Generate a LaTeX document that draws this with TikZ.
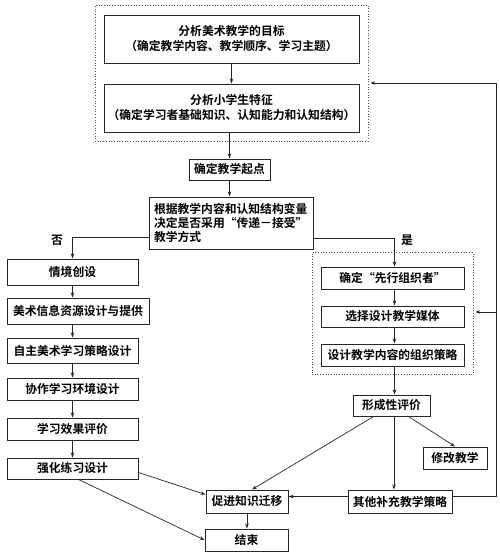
\documentclass[tikz,border=0pt]{standalone}
\usepackage{fontspec}
\newfontfamily\cjk{Noto Sans CJK SC}[BoldFont={Noto Sans CJK SC Bold}]
\usetikzlibrary{arrows.meta}
\begin{document}
\begin{tikzpicture}[x=1pt,y=-1pt,
  box/.style={draw=black!85,line width=1pt,inner sep=0pt,align=center,
    font=\cjk\bfseries\fontsize{11.8}{15}\selectfont},
  dotbox/.style={draw=black!70,line width=0.7pt,dotted,inner sep=0pt},
  lbl/.style={font=\cjk\bfseries\fontsize{11.8}{14}\selectfont,inner sep=0pt},
  arr/.style={line width=0.7pt,draw=black!85,-{Stealth[length=5pt,width=3.5pt]}},
  ln/.style={line width=0.7pt,draw=black!85}]
\useasboundingbox (0,0) rectangle (500,557);
% dotted groups
\node[dotbox,minimum width=273pt,minimum height=136pt] (P1) at (231.5,73) {};
\node[dotbox,minimum width=161pt,minimum height=122pt] (P2) at (392.5,313) {};
% top
\node[box,minimum width=255pt,minimum height=48pt] (A) at (231.5,39) {分析美术教学的目标\\（确定教学内容、教学顺序、学习主题）};
\node[box,minimum width=255pt,minimum height=48pt] (B) at (231.5,108) {分析小学生特征\\（确定学习者基础知识、认知能力和认知结构）};
\node[box,minimum width=81pt,minimum height=21pt] (C) at (229.5,169.5) {确定教学起点};
\node[box,align=left,text width=154pt,inner xsep=5pt,minimum height=52pt,font=\cjk\bfseries\fontsize{11.8}{14}\selectfont] (D) at (231,223) {根据教学内容和认知结构变量\\决定是否采用“传递－接受”\\教学方式};
% left column
\node[box,minimum width=131pt,minimum height=26pt] (E) at (72.5,272) {情境创设};
\node[box,minimum width=142pt,minimum height=26pt] (F) at (78,311) {美术信息资源设计与提供};
\node[box,minimum width=131pt,minimum height=25pt] (L3) at (72.5,350.5) {自主美术学习策略设计};
\node[box,minimum width=131pt,minimum height=22pt] (L4) at (72.5,389) {协作学习环境设计};
\node[box,minimum width=131pt,minimum height=22pt] (L5) at (72.5,429) {学习效果评价};
\node[box,minimum width=131pt,minimum height=21pt] (L6) at (72.5,468.5) {强化练习设计};
% right column
\node[box,minimum width=143pt,minimum height=22pt] (G) at (392.5,278) {确定“先行组织者”};
\node[box,minimum width=143pt,minimum height=21pt] (H) at (392.5,316.5) {选择设计教学媒体};
\node[box,minimum width=143pt,minimum height=22pt] (I) at (392.5,355) {设计教学内容的组织策略};
\node[box,minimum width=77pt,minimum height=21pt] (J) at (391.5,405.5) {形成性评价};
\node[box,minimum width=64pt,minimum height=22pt] (K) at (455,458) {修改教学};
% bottom
\node[box,minimum width=82pt,minimum height=23pt] (M) at (247,501.5) {促进知识迁移};
\node[box,minimum width=104pt,minimum height=23pt] (N) at (400,501.5) {其他补充教学策略};
\node[box,minimum width=83pt,minimum height=22pt] (O) at (246.5,540) {结束};
% labels
\node[lbl] (no) at (57,240) {否};
\node[lbl] (yes) at (407,240) {是};
% coordinates
\coordinate (fbTop) at (496,83);
\coordinate (fbMid) at (496,312);
% connectors
\draw[arr] (A.south) -- (B.north);
\draw[arr] (C.north |- B.south) -- (C.north);
\draw[arr] (C.south) -- (C.south |- D.north);
\draw[arr] ([yshift=-14pt]D.west) -| (E.north);
\draw[arr] ([yshift=-15pt]D.east) -| ([xshift=2pt]G.north);
\draw[arr] (E.south) -- (E.south |- F.north);
\draw[arr] (E.south |- F.south) -- (L3.north);
\draw[arr] (L3.south) -- (L4.north);
\draw[arr] (L4.south) -- (L5.north);
\draw[arr] (L5.south) -- (L6.north);
\draw[arr] ([xshift=2pt]G.south) -- ([xshift=2pt]H.north);
\draw[arr] ([xshift=2pt]H.south) -- ([xshift=2pt]I.north);
\draw[arr] ([xshift=2pt]I.south) -- ([xshift=3pt]J.north);
\draw[arr] ([xshift=-18pt]J.south) -- ([xshift=5pt]M.north);
\draw[arr] ([xshift=2.5pt]J.south) -- ([xshift=-6pt]N.north);
\draw[arr] ([xshift=17pt]J.south) -- (K.north);
\draw[arr] ([yshift=-4pt]L6.east) -- ([yshift=7pt]M.west);
\draw[arr] ([xshift=6pt]L6.south) -- (O.west);
\draw[arr] (M.south) -- (M.south |- O.north);
\draw[arr] ([yshift=5pt]N.west) -- ([yshift=5pt]M.east);
\draw[ln] ([yshift=5pt]N.east) -| (fbTop);
\draw[arr,shorten >=2pt] (fbTop) -- (fbTop -| P1.east);
\draw[arr,shorten >=2pt] (fbMid) -- (fbMid -| P2.east);
\end{tikzpicture}
\end{document}
